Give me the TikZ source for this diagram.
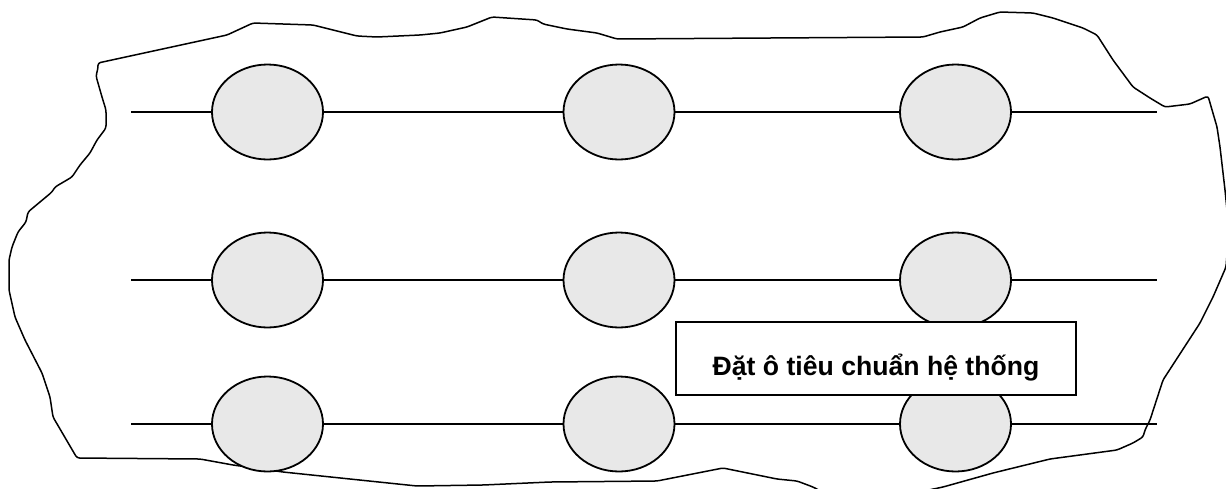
\documentclass[tikz,border=0pt]{standalone}
\usepackage{fontspec}
\setmainfont{Liberation Sans}
\usepackage{tikz}
\usetikzlibrary{ shapes,      % For ellipse
               }
\definecolor{ovalgray}{RGB}{232,232,232}

\begin{document}
\begin{tikzpicture}[x=1pt, y=-1pt,
    oval/.style={ellipse, draw, line width=1.8pt, fill=ovalgray,
                 minimum width=111pt, minimum height=95pt, inner sep=0pt},
    rowline/.style={line width=1.8pt},
    edge line/.style={line width=1.5pt, rounded corners=2.5pt},
    namebox/.style={draw, fill=white, line width=1.8pt, inner sep=0pt,
                    minimum width=400pt, text height=53pt, text depth=20pt,
                    font=\fontsize{26.6}{32}\selectfont\bfseries}]
    \useasboundingbox (0,0) rectangle (1226,488);

    % ragged edge of the area
    \draw[edge line] (98,63) -- (227,35) -- (253,23) -- (313,25) -- (357,36)
        -- (377,37) -- (420,35) -- (440,33) -- (467,27) -- (492,17)
        -- (537,20) -- (543,24) -- (567,29) -- (597,33) -- (617,39)
        -- (923,37) -- (940,32) -- (963,27) -- (980,18) -- (1000,12)
        -- (1033,13) -- (1053,18) -- (1083,28) -- (1097,35) -- (1113,60)
        -- (1133,87) -- (1150,98) -- (1165,107) -- (1190,104) -- (1208,96)
        -- (1217,127) -- (1220,147) -- (1225,190) -- (1229,230) -- (1226,267)
        -- (1213,297) -- (1200,323) -- (1163,380) -- (1150,420) -- (1145,430)
        -- (1143,437) -- (1133,443) -- (1117,450) -- (1050,459) -- (993,473)
        -- (943,487) -- (900,496) -- (830,496) -- (813,487) -- (797,481)
        -- (777,479) -- (723,468) -- (657,481) -- (550,482) -- (483,485)
        -- (417,486) -- (283,472) -- (233,465) -- (200,459) -- (77,458)
        -- (53,417) -- (50,397) -- (42,373) -- (25,340) -- (15,317)
        -- (9,290) -- (9,260) -- (12,247) -- (18,232) -- (26,222)
        -- (28,212) -- (52,192) -- (55,187) -- (72,177) -- (80,165)
        -- (90,153) -- (97,140) -- (106,128) -- (106,110) -- (102,97)
        -- (96,76) -- (98,68) -- cycle;

    % standard plots
    \node[oval] (a1) at (267.5,112) {};
    \node[oval] (a2) at (619,112) {};
    \node[oval] (a3) at (955.5,112) {};
    \node[oval] (b1) at (267.5,280) {};
    \node[oval] (b2) at (619,280) {};
    \node[oval] (b3) at (955.5,280) {};
    \node[oval] (c1) at (267.5,424) {};
    \node[oval] (c2) at (619,424) {};
    \node[oval] (c3) at (955.5,424) {};

    \coordinate (aL) at (131,112);
    \coordinate (aR) at (1157,112);
    \coordinate (bL) at (131,280);
    \coordinate (bR) at (1157,280);
    \coordinate (cL) at (131,424);
    \coordinate (cR) at (1157,424);

    \draw[rowline] (aL) -- (a1) -- (a2) -- (a3) -- (aR);
    \draw[rowline] (bL) -- (b1) -- (b2) -- (b3) -- (bR);
    \draw[rowline] (cL) -- (c1) -- (c2) -- (c3) -- (cR);

    \node[namebox] (lbl) at (876,358.5) {Đặt ô tiêu chuẩn hệ thống};
\end{tikzpicture}
\end{document}
